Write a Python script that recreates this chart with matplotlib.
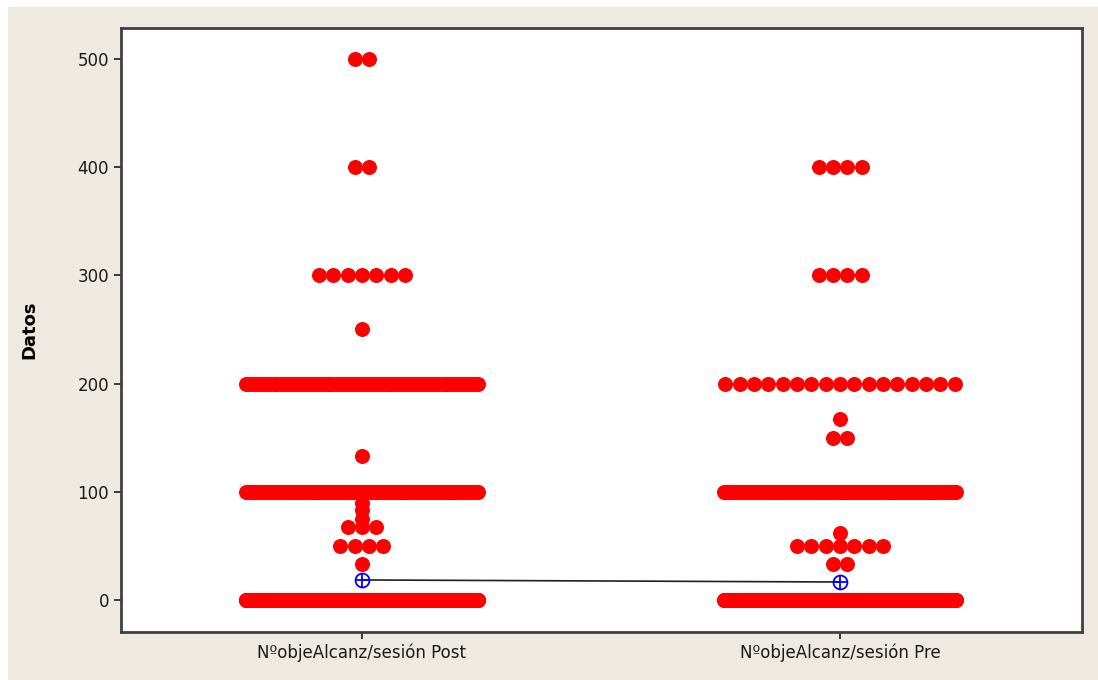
import matplotlib
matplotlib.use('Agg')
import matplotlib.pyplot as plt
import numpy as np

# distinct values and how many times each appears, per group
groups = ['NºobjeAlcanz/sesión Post', 'NºobjeAlcanz/sesión Pre']

post_vals = [500, 400, 300, 250, 200, 133, 100, 90, 83, 75, 67, 50, 33, 0]
post_counts = [2, 2, 7, 1, 60, 1, 80, 1, 1, 1, 3, 4, 1, 1185]

pre_vals = [400, 300, 200, 167, 150, 100, 62, 50, 33, 0]
pre_counts = [4, 4, 17, 1, 2, 80, 1, 7, 2, 794]

BG = '#EEEAE1'
STEP = 0.03      # spacing between neighbour dots
MAXW = 0.485     # widest a row of dots may get


def dot_positions(center, vals, counts):
    xs, ys = [], []
    for v, n in zip(vals, counts):
        step = STEP if n < 2 else min(STEP, MAXW / (n - 1))
        offs = (np.arange(n) - (n - 1) / 2.0) * step
        xs.extend(center + offs)
        ys.extend([v] * n)
    return np.array(xs), np.array(ys)


fig = plt.figure(figsize=(10.98, 6.8), dpi=100)
fig.patch.set_facecolor('white')
# beige panel with a thin white strip on top / left
fig.patches.append(plt.Rectangle((8 / 1098., 0), 1, 1 - 7 / 680., transform=fig.transFigure,
                                 facecolor=BG, edgecolor='none', zorder=-10))

ax = fig.add_axes([121 / 1098., 48 / 680., 961 / 1098., 604 / 680.])
ax.set_facecolor('white')

means = []
for i, (vals, counts) in enumerate([(post_vals, post_counts), (pre_vals, pre_counts)]):
    x, y = dot_positions(i + 1, vals, counts)
    ax.plot(x, y, 'o', color='#FF0000', ms=10.8, mec='#FF0000', mew=0, zorder=2)
    means.append(np.repeat(vals, counts).mean())

ax.plot([1, 2], means, '-', color='#202020', lw=1.2, zorder=3)
ax.plot([1, 2], means, 'o', ms=10, mfc='none', mec='#0000FF', mew=1.3, zorder=4)
ax.plot([1, 2], means, '+', ms=10, mec='#0000FF', mew=1.3, zorder=4)

ax.set_xlim(0.496, 2.506)
ax.set_ylim(-29.6, 528.6)
ax.set_xticks([1, 2])
ax.set_xticklabels(groups, fontsize=12, color='#1a1a1a')
ax.set_yticks(np.arange(0, 501, 100))
ax.tick_params(axis='y', labelsize=12, length=5, width=1.2, colors='#1a1a1a')
ax.tick_params(axis='x', length=5, width=1.2, colors='#1a1a1a')
ax.set_ylabel('Datos', fontsize=13, fontweight='bold', labelpad=28)
for sp in ax.spines.values():
    sp.set_linewidth(2)
    sp.set_color('#404040')

fig.savefig('out.png', dpi=100, facecolor=fig.get_facecolor())
